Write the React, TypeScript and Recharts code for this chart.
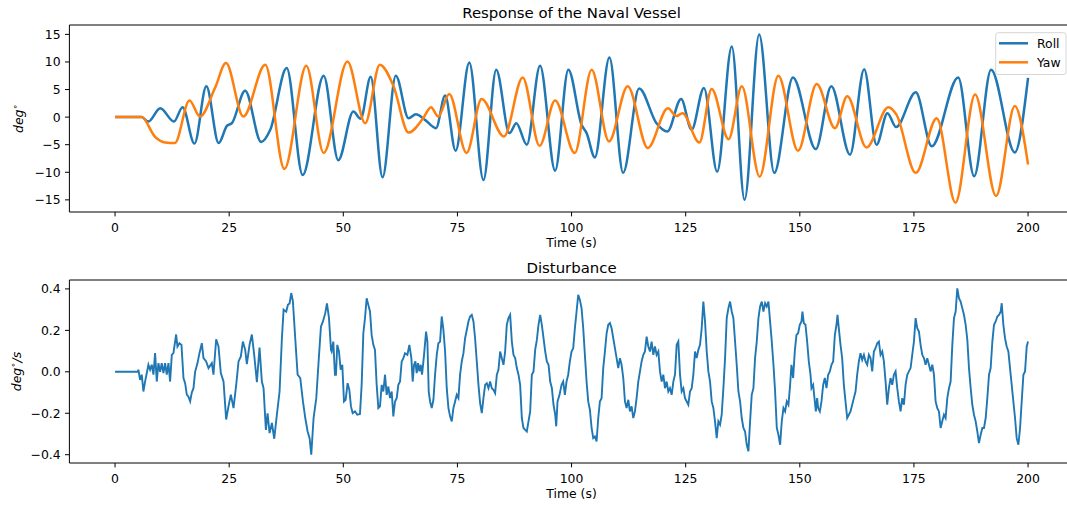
import { LineChart, Line, XAxis, YAxis, ReferenceLine } from 'recharts'

// time axis (s)
const timeTicks = [0, 25, 50, 75, 100, 125, 150, 175, 200]
const angleTicks = [-15, -10, -5, 0, 5, 10, 15]
const rateTicks = [-0.4, -0.2, 0, 0.2, 0.4]

// roll angle, [t, deg] at the turning points
const rollPoints: [number, number][] = [
  [0, 0], [5.8, 0], [7.3, -0.8], [9.9, 1.6], [12.9, -0.8], [14.8, 1.8], [17.4, -4.8],
  [20.0, 5.6], [22.7, -4.7], [24.5, -1.6], [25.6, -1.1], [28.5, 4.8], [32.0, -4.5],
  [34.0, -2.3], [37.6, 8.9], [41.1, -10.5], [45.7, 7.5], [48.9, -7.8], [52.2, 1.0],
  [53.8, -0.3], [56.0, 7.3], [58.6, -10.9], [61.5, 7.5], [64.3, -0.2], [65.9, 0.5],
  [67.9, -0.5], [70.3, -2.0], [72.3, 3.9], [74.6, -6.1], [77.6, 9.9], [80.7, -11.4],
  [83.5, 8.6], [86.4, -2.9], [87.9, -1.1], [90.2, -5.0], [93.1, 9.3], [96.4, -9.7],
  [99.3, 8.6], [102.2, -1.4], [103.3, -2.9], [105.1, -7.3], [108.3, 10.8], [111.3, -10.1],
  [114.8, 5.2], [118.6, -1.1], [121.0, -2.6], [124.0, 3.3], [126.3, -2.3], [129.0, 5.3],
  [131.9, -9.9], [135.1, 12.8], [137.9, -15.0], [141.1, 15.0], [144.4, -10.1], [148.5, 7.2],
  [153.5, -5.8], [156.9, 5.6], [161.0, -6.8], [164.1, 8.7], [166.8, -5.0], [169.2, 0.7],
  [171.1, -1.8], [175.4, 4.5], [178.9, -5.3], [184.7, 7.2], [188.2, -10.7], [191.9, 8.6],
  [197.1, -6.4], [200, 7.1],
]

// yaw angle, [t, deg]
const yawPoints: [number, number][] = [
  [0, 0], [5.8, 0], [8.8, -3.6], [11.0, -4.6], [13.1, -4.7], [16.3, 3.0], [18.6, 0.1],
  [21.9, 5.3], [24.3, 9.8], [28.1, 0.1], [32.9, 9.5], [37.1, -9.4], [41.9, 9.3],
  [45.7, -6.5], [50.9, 10.1], [54.8, -1.1], [58.0, 9.5], [61.0, 5.6], [64.3, -2.8],
  [67.5, -0.2], [69.2, 1.8], [70.8, 0.1], [73.2, 4.2], [77.0, -6.5], [80.3, 3.3],
  [85.2, -3.5], [89.3, 7.2], [93.0, -5.2], [96.4, 3.0], [100.7, -6.5], [104.4, 8.6],
  [108.2, -4.4], [112.3, 5.6], [116.7, -5.6], [121.1, 1.6], [123.0, 0.2], [124.3, 0.7],
  [128.0, -4.6], [130.7, 5.1], [134.4, -4.0], [137.3, 5.6], [141.2, -10.8], [145.3, 7.5],
  [149.6, -6.1], [153.7, 6.0], [157.7, -2.0], [160.4, 3.8], [164.6, -5.5], [169.4, 1.8],
  [171.2, 0.4], [175.4, -10.1], [180.0, -0.2], [184.1, -15.5], [188.4, 4.1], [193.0, -14.3],
  [197.1, 2.0], [200, -8.6],
]

// disturbance rate, [t, deg/s], split by time span
const disturbance0to47: [number, number][] = [
  [0, 0], [4.97, 0], [5.12, 0.01], [5.48, -0.039], [5.85, -0.014], [6.21, -0.095], [6.58, -0.047],
  [7.31, 0.034], [7.68, 0.01], [8.04, 0.034], [8.41, -0.014], [8.77, 0.09], [9.14, -0.047],
  [9.5, 0.042], [9.87, 0], [10.23, 0.042], [10.6, -0.006], [10.96, 0.042], [11.33, -0.014],
  [11.7, 0.042], [12.06, -0.047], [12.43, 0.082], [12.79, 0.09], [13.38, 0.18], [13.67, 0.122],
  [14.11, 0.138], [14.55, 0.13], [14.99, -0.03], [15.35, -0.055], [15.72, -0.11], [16.08, -0.12],
  [16.45, -0.143], [16.81, -0.1], [17.18, -0.079], [17.54, 0], [18.06, 0.042], [18.49, 0.09],
  [19.01, 0.138], [19.37, 0.066], [19.96, 0.05], [20.47, 0.018], [21.2, 0.042], [21.56, -0.014],
  [22.15, 0.157], [22.66, 0.122], [23.17, -0.006], [23.76, -0.047], [24.34, -0.23], [24.85, -0.167],
  [25.37, -0.11], [25.95, -0.175], [26.54, -0.063], [27.05, 0.05], [27.56, 0.074], [28.0, 0.146],
  [28.51, 0.106], [28.87, 0.037], [29.46, 0.13], [29.97, 0.18], [30.48, 0.082], [31.07, -0.05],
  [31.65, 0.117], [32.16, -0.047], [32.53, -0.079], [33.04, -0.28], [33.41, -0.2], [33.85, -0.296],
  [34.36, -0.247], [34.87, -0.323], [35.45, -0.207], [36.04, -0.095], [36.55, 0.162], [36.92, 0.3],
  [37.5, 0.29], [37.87, 0.323], [38.23, 0.33], [38.6, 0.38], [38.96, 0.34], [39.47, 0.162],
  [39.99, -0.014], [40.57, -0.03], [41.16, -0.143], [41.67, -0.223], [42.18, -0.288], [42.62, -0.32],
  [42.98, -0.4], [43.49, -0.223], [44.08, -0.127], [44.59, 0.05], [45.1, 0.218], [45.54, 0.243],
  [46.05, 0.283], [46.42, 0.33], [46.86, 0.26], [47.3, 0.106],
]

const disturbance47to98: [number, number][] = [
  [47.44, 0.098], [47.81, 0.146], [48.17, -0.014], [48.39, -0.014], [48.68, 0.13], [49.05, 0.098],
  [49.42, 0.01], [49.78, 0.034], [50.15, -0.143], [50.51, -0.135], [50.95, -0.055], [51.32, -0.087],
  [51.68, -0.167], [52.05, -0.199], [52.56, -0.191], [53.07, -0.207], [53.65, -0.204], [54.02, -0.063],
  [54.39, 0.186], [54.75, 0.259], [55.12, 0.355], [55.48, 0.323], [55.85, 0.291], [56.21, 0.178],
  [56.58, 0.13], [56.94, 0.106], [57.31, -0.063], [57.68, -0.175], [58.04, -0.167], [58.41, -0.063],
  [58.77, -0.095], [59.14, -0.014], [59.5, -0.111], [59.87, -0.071], [60.23, -0.127], [60.6, -0.095],
  [60.96, -0.215], [61.33, -0.143], [61.7, -0.127], [62.06, -0.063], [62.43, -0.047], [62.79, 0.05],
  [63.16, 0.066], [63.52, 0.09], [64.04, 0.082], [64.47, 0.13], [64.91, 0.066], [65.2, -0.047],
  [65.5, 0.034], [65.79, 0.05], [66.08, -0.006], [66.37, 0.042], [66.67, 0.002], [66.96, 0.034],
  [67.25, -0.014], [67.69, 0.082], [68.13, 0.194], [68.42, 0.146], [68.71, -0.095], [69.01, -0.143],
  [69.37, -0.175], [69.74, -0.135], [70.1, -0.014], [70.47, 0.082], [70.83, 0.138], [71.2, 0.146],
  [71.56, 0.267], [71.93, 0.202], [72.3, 0.098], [72.66, -0.079], [73.03, -0.175], [73.39, -0.215],
  [73.76, -0.239], [74.12, -0.175], [74.49, -0.143], [74.85, -0.111], [75.22, -0.127], [75.58, -0.014],
  [75.95, 0.05], [76.32, 0.09], [76.68, 0.162], [77.05, 0.202], [77.41, 0.243], [77.78, 0.267],
  [78.14, 0.275], [78.51, 0.243], [78.87, 0.162], [79.24, 0.05], [79.61, -0.063], [79.97, -0.151],
  [80.34, -0.199], [80.7, -0.127], [81.07, -0.063], [81.43, -0.055], [81.8, -0.079], [82.16, -0.047],
  [82.53, -0.079], [82.89, -0.087], [83.26, -0.103], [83.63, -0.014], [83.99, 0.01], [84.36, 0.098],
  [84.72, 0.066], [85.09, 0.034], [85.45, 0.098], [85.82, 0.227], [86.18, 0.259], [86.55, 0.275],
  [86.92, 0.146], [87.28, 0.082], [87.65, 0.066], [88.01, 0.018], [88.38, -0.014], [88.74, -0.063],
  [89.11, -0.223], [89.47, -0.271], [89.84, -0.28], [90.2, -0.288], [90.57, -0.239], [90.94, -0.191],
  [91.3, -0.014], [91.67, 0.002], [92.03, 0.106], [92.4, 0.154], [92.76, 0.227], [93.13, 0.275],
  [93.49, 0.227], [93.86, 0.162], [94.23, 0.098], [94.59, 0.05], [94.96, 0.034], [95.32, -0.047],
  [95.69, -0.079], [96.05, -0.159], [96.42, -0.207], [96.64, -0.263], [96.93, -0.143], [97.37, -0.111],
  [97.81, -0.063],
]

const disturbance98to148: [number, number][] = [
  [98.17, -0.047], [98.54, -0.111], [98.9, -0.047], [99.27, -0.014], [99.63, 0.05], [100.0, 0.098],
  [100.37, 0.114], [100.73, 0.21], [101.1, 0.291], [101.46, 0.371], [101.83, 0.347], [102.19, 0.307],
  [102.56, 0.21], [102.92, 0.082], [103.29, -0.047], [103.65, -0.143], [104.02, -0.183], [104.39, -0.271],
  [104.75, -0.32], [105.12, -0.312], [105.48, -0.336], [105.85, -0.223], [106.21, -0.143], [106.58, -0.127],
  [106.94, 0.018], [107.31, 0.098], [107.68, 0.186], [108.04, 0.227], [108.41, 0.235], [108.77, 0.21],
  [109.14, 0.162], [109.5, 0.114], [109.87, 0.066], [110.23, 0.018], [110.6, 0.066], [110.96, 0.034],
  [111.33, -0.03], [111.7, -0.143], [112.06, -0.175], [112.43, -0.135], [112.79, -0.191], [113.16, -0.167],
  [113.52, -0.223], [113.89, -0.191], [114.25, -0.127], [114.62, -0.047], [114.99, 0.002], [115.35, 0.05],
  [115.72, 0.082], [116.08, 0.098], [116.45, 0.17], [116.81, 0.122], [117.18, 0.098], [117.54, 0.146],
  [117.91, 0.082], [118.27, 0.122], [118.64, 0.082], [119.01, 0.098], [119.37, 0.002], [119.74, -0.047],
  [120.1, -0.014], [120.47, -0.079], [120.83, -0.047], [121.2, -0.095], [121.56, -0.079], [121.93, -0.111],
  [122.3, -0.047], [122.66, -0.014], [123.03, 0.13], [123.39, 0.146], [123.76, -0.014], [124.12, -0.095],
  [124.49, -0.079], [124.85, -0.127], [125.22, -0.143], [125.58, -0.159], [125.95, -0.095], [126.32, -0.079],
  [126.68, -0.014], [127.05, 0.098], [127.41, 0.066], [127.78, 0.106], [128.14, 0.13], [128.51, 0.21],
  [128.87, 0.339], [129.24, 0.243], [129.61, 0.098], [129.97, 0.002], [130.34, -0.047], [130.7, -0.143],
  [131.07, -0.175], [131.43, -0.239], [131.8, -0.32], [132.16, -0.239], [132.53, -0.255], [132.89, -0.207],
  [133.26, -0.079], [133.63, 0.066], [133.99, 0.259], [134.36, 0.307], [134.72, 0.339], [135.09, 0.291],
  [135.45, 0.259], [135.82, 0.146], [136.18, 0.034], [136.55, -0.095], [136.92, -0.143], [137.28, -0.223],
  [137.65, -0.271], [138.01, -0.288], [138.38, -0.352], [138.74, -0.384], [139.11, -0.239], [139.47, -0.111],
  [139.84, -0.079], [140.2, 0.066], [140.57, 0.146], [140.94, 0.259], [141.3, 0.315], [141.67, 0.339],
  [142.03, 0.291], [142.4, 0.331], [142.76, 0.315], [143.13, 0.339], [143.49, 0.243], [143.86, 0.146],
  [144.23, 0.034], [144.59, -0.095], [144.96, -0.271], [145.32, -0.304], [145.69, -0.352], [146.05, -0.239],
  [146.42, -0.175], [146.78, -0.191], [147.15, -0.143], [147.51, -0.159], [147.88, -0.063],
]

const disturbance148to200: [number, number][] = [
  [148.17, 0.034], [148.54, -0.03], [148.9, 0.098], [149.27, 0.178], [149.63, 0.186], [150.0, 0.227],
  [150.37, 0.243], [150.58, 0.291], [150.88, 0.235], [151.24, 0.227], [151.61, 0.146], [151.97, 0.05],
  [152.34, -0.014], [152.56, -0.079], [152.92, -0.063], [153.29, -0.143], [153.51, -0.191], [153.8, -0.127],
  [154.02, -0.175], [154.39, -0.191], [154.75, -0.143], [155.12, -0.063], [155.48, -0.03], [155.85, -0.079],
  [156.21, -0.014], [156.58, 0.002], [156.94, 0.034], [157.31, 0.05], [157.68, 0.178], [158.04, 0.227],
  [158.26, 0.275], [158.55, 0.21], [158.92, 0.13], [159.28, 0.066], [159.65, -0.063], [160.01, -0.143],
  [160.38, -0.223], [160.75, -0.207], [161.11, -0.191], [161.48, -0.159], [161.84, -0.127], [162.21, -0.095],
  [162.57, -0.014], [162.94, 0.05], [163.3, 0.09], [163.67, 0.058], [164.04, 0.082], [164.4, 0.05],
  [164.77, 0.034], [165.13, 0.082], [165.5, 0.066], [165.86, 0.002], [166.23, 0.098], [166.59, 0.114],
  [166.96, 0.138], [167.32, 0.146], [167.69, 0.082], [168.06, 0.098], [168.42, 0.05], [168.79, -0.047],
  [169.15, -0.159], [169.52, -0.079], [169.88, -0.03], [170.25, -0.063], [170.61, -0.014], [170.98, 0.002],
  [171.35, -0.079], [171.71, -0.143], [172.08, -0.191], [172.44, -0.127], [172.81, -0.159], [173.17, -0.063],
  [173.54, -0.014], [173.9, 0.002], [174.27, 0.018], [174.63, 0.082], [175.0, 0.146], [175.37, 0.259],
  [175.73, 0.21], [176.1, 0.194], [176.46, 0.13], [176.83, 0.082], [177.19, 0.066], [177.56, 0.034],
  [177.92, 0.066], [178.29, 0.034], [178.65, 0.002], [179.02, 0.034], [179.39, -0.014], [179.75, -0.143],
  [180.12, -0.175], [180.48, -0.191], [180.85, -0.271], [181.21, -0.239], [181.58, -0.207], [181.94, -0.223],
  [182.31, -0.127], [182.68, -0.079], [183.04, -0.047], [183.41, 0.13], [183.77, 0.259], [184.14, 0.291],
  [184.5, 0.403], [184.87, 0.355], [185.23, 0.339], [185.6, 0.307], [185.96, 0.275], [186.33, 0.227],
  [186.7, 0.154], [187.06, 0.018], [187.43, -0.079], [187.79, -0.159], [188.16, -0.207], [188.52, -0.239],
  [188.89, -0.288], [189.25, -0.344], [189.62, -0.304], [189.99, -0.271], [190.35, -0.271], [190.72, -0.223],
  [191.08, -0.127], [191.45, -0.014], [191.81, 0.018], [192.18, 0.146], [192.54, 0.227], [192.91, 0.243],
  [193.27, 0.267], [193.64, 0.275], [194.01, 0.291], [194.23, 0.331], [194.59, 0.227], [194.96, 0.162],
  [195.32, 0.122], [195.69, 0.098], [196.05, 0.018], [196.42, -0.063], [196.78, -0.143], [197.15, -0.223],
  [197.51, -0.32], [197.88, -0.352], [198.25, -0.271], [198.61, -0.143], [198.98, -0.014], [199.34, 0.002],
  [199.71, 0.122], [200.0, 0.146],
]

const BLUE = '#1f77b4'
const ORANGE = '#ff7f0e'
const FONT = '"DejaVu Sans", sans-serif'
const TICK_FONT = 12.4
const TITLE_FONT = 14.9

const rows = (pts: [number, number][]) => pts.map(([t, v]) => ({ t, v }))
const minus = (s: string) => s.replace('-', '\u2212')

const roll = rows(rollPoints)
const yaw = rows(yawPoints)
const disturbance = rows([
  ...disturbance0to47,
  ...disturbance47to98,
  ...disturbance98to148,
  ...disturbance148to200,
])

const tickStyle = { fill: '#000', fontSize: TICK_FONT, fontFamily: FONT }
const spine = { stroke: '#000', strokeWidth: 1 }

// axes box: x from 69.4 to 1073.7 px (right edge runs off the page)
const CHART_W = 1080
const PLOT_LEFT = 69.4
const PLOT_RIGHT_PAD = CHART_W - 1073.7
const AXES_CX = (69.4 + 1073.7) / 2

function TimeAxis({ height }: { height: number }) {
  return (
    <XAxis
      dataKey="t"
      type="number"
      domain={[-10, 210]}
      ticks={timeTicks}
      interval={0}
      allowDataOverflow
      height={height}
      tick={tickStyle}
      tickLine={spine}
      axisLine={spine}
      tickSize={4.4}
      tickMargin={6.5}
    />
  )
}

export default function App() {
  return (
    <div
      style={{
        position: 'fixed',
        left: 0,
        top: 0,
        width: 1067,
        height: 506,
        overflow: 'hidden',
        background: '#fff',
      }}
    >
      <div style={{ position: 'absolute', left: 0, top: 0 }}>
        <LineChart width={CHART_W} height={260} margin={{ top: 25, right: PLOT_RIGHT_PAD, bottom: 0, left: 0 }}>
          {TimeAxis({ height: 48 })}
          <YAxis
            type="number"
            domain={[-17.2, 16.7]}
            ticks={angleTicks}
            interval={0}
            allowDataOverflow
            width={PLOT_LEFT}
            tick={tickStyle}
            tickLine={spine}
            axisLine={spine}
            tickSize={4.4}
            tickMargin={4.4}
            tickFormatter={(v: number) => minus(String(v))}
          />
          <ReferenceLine y={16.7} stroke="#000" strokeWidth={1} />
          <Line data={roll} dataKey="v" name="Roll" type="monotone" stroke={BLUE} strokeWidth={2.5} dot={false} activeDot={false} isAnimationActive={false} />
          <Line data={yaw} dataKey="v" name="Yaw" type="monotone" stroke={ORANGE} strokeWidth={2.5} dot={false} activeDot={false} isAnimationActive={false} />
        </LineChart>
      </div>

      <div style={{ position: 'absolute', left: 0, top: 255 }}>
        <LineChart width={CHART_W} height={251} margin={{ top: 25, right: PLOT_RIGHT_PAD, bottom: 0, left: 0 }}>
          {TimeAxis({ height: 43 })}
          <YAxis
            type="number"
            domain={[-0.44, 0.443]}
            ticks={rateTicks}
            interval={0}
            allowDataOverflow
            width={PLOT_LEFT}
            tick={tickStyle}
            tickLine={spine}
            axisLine={spine}
            tickSize={4.4}
            tickMargin={4.4}
            tickFormatter={(v: number) => minus(v.toFixed(1))}
          />
          <ReferenceLine y={0.443} stroke="#000" strokeWidth={1} />
          <Line data={disturbance} dataKey="v" name="Disturbance" type="linear" stroke={BLUE} strokeWidth={1.9} dot={false} activeDot={false} isAnimationActive={false} />
        </LineChart>
      </div>

      {/* titles, axis labels and legend */}
      <svg width={1067} height={506} style={{ position: 'absolute', left: 0, top: 0, pointerEvents: 'none' }} fontFamily={FONT}>
        <text x={AXES_CX} y={17.5} textAnchor="middle" fontSize={TITLE_FONT} fill="#000">Response of the Naval Vessel</text>
        <text x={AXES_CX} y={247} textAnchor="middle" fontSize={TICK_FONT} fill="#000">Time (s)</text>
        <text transform="translate(23.1,118.5) rotate(-90)" textAnchor="middle" fontSize={TICK_FONT} fill="#000">
          <tspan fontStyle="italic">deg</tspan>
          <tspan fontSize={TICK_FONT * 0.7} dy={-5}>{'\u2218'}</tspan>
        </text>

        <text x={AXES_CX} y={272.5} textAnchor="middle" fontSize={TITLE_FONT} fill="#000">Disturbance</text>
        <text x={AXES_CX} y={498} textAnchor="middle" fontSize={TICK_FONT} fill="#000">Time (s)</text>
        <text transform="translate(20.5,371.5) rotate(-90)" textAnchor="middle" fontSize={TICK_FONT} fill="#000">
          <tspan fontStyle="italic">deg</tspan>
          <tspan fontSize={TICK_FONT * 0.7} dy={-5}>{'\u2218'}</tspan>
          <tspan fontStyle="italic" dy={5}>/s</tspan>
        </text>

        <rect x={995.7} y={32.7} width={70.3} height={41.8} rx={2.5} fill="#fff" fillOpacity={0.8} stroke="#d6d6d6" strokeWidth={1} />
        <line x1={999} x2={1028} y1={43.3} y2={43.3} stroke={BLUE} strokeWidth={2.5} />
        <text x={1037} y={48} fontSize={TICK_FONT} fill="#000">Roll</text>
        <line x1={999} x2={1028} y1={62.3} y2={62.3} stroke={ORANGE} strokeWidth={2.5} />
        <text x={1037} y={67} fontSize={TICK_FONT} fill="#000">Yaw</text>
      </svg>
    </div>
  )
}
